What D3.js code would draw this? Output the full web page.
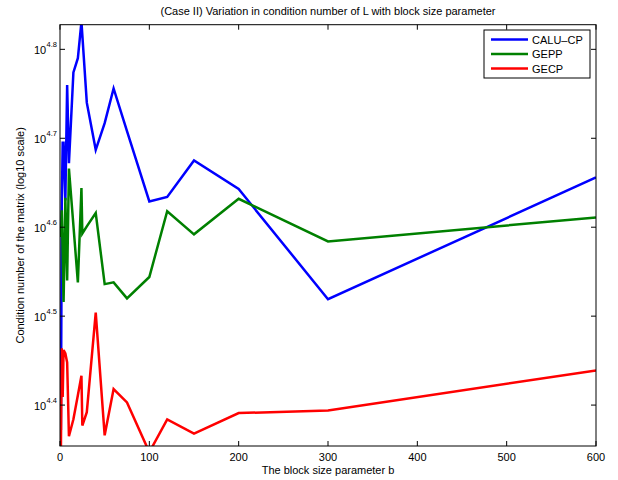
<!DOCTYPE html>
<html>
<head>
<meta charset="utf-8">
<style>
  body { margin: 0; background: #fff; }
  text { font-family: "Liberation Sans", Arial, sans-serif; fill: #000; }
</style>
</head>
<body>
<svg width="618" height="480"></svg>
<script src="https://d3js.org/d3.v7.min.js"></script>
<script>

// data: block sizes and log10 of the condition number
const blockSizes = [1, 2, 3, 4, 6, 8, 10, 15, 20, 24, 25, 30, 40, 50, 60, 75, 100, 120, 150, 200, 300, 600];
const caluCp = [4.372, 4.623, 4.695, 4.695, 4.630, 4.760, 4.672, 4.774, 4.790, 4.831, 4.816, 4.740, 4.687, 4.717, 4.756, 4.708, 4.629, 4.634, 4.675, 4.643, 4.519, 4.656];
const gepp = [4.589, 4.619, 4.569, 4.516, 4.633, 4.540, 4.666, 4.602, 4.538, 4.644, 4.593, 4.601, 4.616, 4.536, 4.538, 4.520, 4.544, 4.618, 4.592, 4.632, 4.584, 4.611];
const gecp = [4.349, 4.464, 4.409, 4.462, 4.458, 4.448, 4.365, 4.384, 4.411, 4.433, 4.377, 4.392, 4.504, 4.366, 4.418, 4.403, 4.347, 4.384, 4.368, 4.391, 4.394, 4.439];

const seriesNames = ["CALU\u2013CP", "GEPP", "GECP"];
const xTicks = [0, 100, 200, 300, 400, 500, 600];
const yTickExps = [4.4, 4.5, 4.6, 4.7, 4.8];

const svg = d3.select("svg");
const pl = 60, pr = 596, pt = 24.7, pb = 446;

const x = d3.scaleLinear().domain([0, 600]).range([pl, pr]);
const y = d3.scaleLog().domain([Math.pow(10, 4.354), Math.pow(10, 4.8277)]).range([pb, pt]);
const color = d3.scaleOrdinal().domain(seriesNames).range(["#0000ff", "#008000", "#ff0000"]);

const series = [caluCp, gepp, gecp].map(function(vals, i) {
  return { name: seriesNames[i], points: vals.map(function(v, j) { return [blockSizes[j], Math.pow(10, v)]; }) };
});

svg.append("defs").append("clipPath").attr("id", "clip")
  .append("rect").attr("x", pl).attr("y", pt).attr("width", pr - pl).attr("height", pb - pt);

const line = d3.line()
  .x(function(d) { return x(d[0]); })
  .y(function(d) { return y(d[1]); });

svg.append("g").attr("clip-path", "url(#clip)")
  .selectAll("path").data(series).enter().append("path")
  .attr("d", function(d) { return line(d.points); })
  .attr("fill", "none")
  .attr("stroke", function(d) { return color(d.name); })
  .attr("stroke-width", 2.5)
  .attr("stroke-linejoin", "miter");

// axes, MATLAB style: ticks inside, box around
const tickLen = 5;
const axes = svg.append("g").attr("stroke", "#000").attr("stroke-width", 1);

axes.selectAll(".xt").data(xTicks).enter().append("path")
  .attr("d", function(d) {
    const px = x(d);
    return "M" + px + "," + pb + "v" + (-tickLen) + "M" + px + "," + pt + "v" + tickLen;
  });

axes.selectAll(".yt").data(yTickExps).enter().append("path")
  .attr("d", function(d) {
    const py = y(Math.pow(10, d));
    return "M" + pl + "," + py + "h" + tickLen + "M" + pr + "," + py + "h" + (-tickLen);
  });

axes.append("rect")
  .attr("x", pl).attr("y", pt).attr("width", pr - pl).attr("height", pb - pt)
  .attr("fill", "none");

svg.append("g").selectAll("text").data(xTicks).enter().append("text")
  .attr("x", function(d) { return x(d); })
  .attr("y", 461)
  .attr("text-anchor", "middle")
  .attr("font-size", 11)
  .text(function(d) { return d; });

const yLab = svg.append("g").selectAll("g").data(yTickExps).enter().append("g")
  .attr("transform", function(d) { return "translate(" + 34 + "," + (y(Math.pow(10, d)) + 5) + ")"; });
yLab.append("text").attr("font-size", 11).text("10");
yLab.append("text").attr("x", 12.5).attr("y", -7).attr("font-size", 7.5)
  .text(function(d) { return d.toFixed(1); });

svg.append("text")
  .attr("x", (pl + pr) / 2).attr("y", 15)
  .attr("text-anchor", "middle").attr("font-size", 11)
  .text("(Case II) Variation in condition number of L with block size parameter");

svg.append("text")
  .attr("x", (pl + pr) / 2).attr("y", 474)
  .attr("text-anchor", "middle").attr("font-size", 11)
  .text("The block size parameter b");

svg.append("text")
  .attr("transform", "translate(24," + ((pt + pb) / 2) + ") rotate(-90)")
  .attr("text-anchor", "middle").attr("font-size", 11)
  .text("Condition number of the matrix (log10 scale)");

// legend
const legend = svg.append("g");
legend.append("rect")
  .attr("x", 484).attr("y", 30).attr("width", 106).attr("height", 48)
  .attr("fill", "#fff").attr("stroke", "#000").attr("stroke-width", 1);
const rows = legend.selectAll("g").data(seriesNames).enter().append("g")
  .attr("transform", function(d, i) { return "translate(0," + (39.5 + i * 14.5) + ")"; });
rows.append("line")
  .attr("x1", 491).attr("x2", 528)
  .attr("stroke", function(d) { return color(d); })
  .attr("stroke-width", 2.5);
rows.append("text")
  .attr("x", 532).attr("y", 4).attr("font-size", 11)
  .text(function(d) { return d; });

</script>
</body>
</html>
